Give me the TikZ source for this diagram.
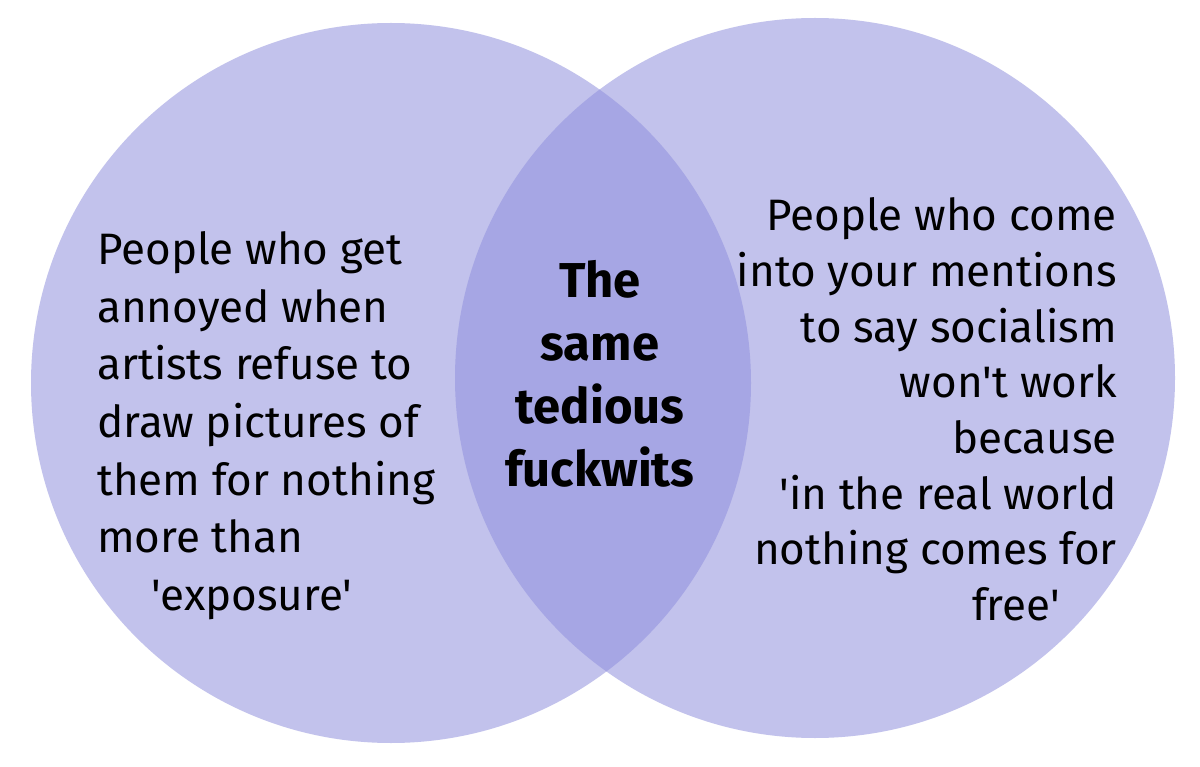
\documentclass[tikz,border=0pt]{standalone}
\usepackage{fontspec}
\newfontfamily\bodyfont{Fira Sans}
\newfontfamily\boldfont{Fira Sans Bold}
\definecolor{setfill}{HTML}{C2C2EC}
\definecolor{overlapfill}{HTML}{A6A6E4}
\begin{document}
\begin{tikzpicture}[x=1pt,y=-1pt,
  lefttxt/.style={anchor=base west, inner sep=0pt, font=\bodyfont\fontsize{44}{52}\selectfont},
  righttxt/.style={anchor=base east, inner sep=0pt, font=\bodyfont\fontsize{44}{52}\selectfont},
  midtxt/.style={anchor=base, inner sep=0pt, font=\boldfont\fontsize{49}{58}\selectfont}]
\useasboundingbox (0,0) rectangle (1200,767);
\fill[white] (0,0) rectangle (1200,767);
\coordinate (cl) at (391,383);
\coordinate (cr) at (815,378);
\fill[setfill] (cl) circle[radius=360pt];
\fill[setfill] (cr) circle[radius=360pt];
\begin{scope}
  \clip (cl) circle[radius=360pt];
  \fill[overlapfill] (cr) circle[radius=360pt];
\end{scope}
% left set
\node[lefttxt] (l1) at (97,265) {People who get};
\node[lefttxt] (l2) at (97,322.5) {annoyed when};
\node[lefttxt] (l3) at (97,380) {artists refuse to};
\node[lefttxt] (l4) at (97,437.5) {draw pictures of};
\node[lefttxt] (l5) at (97,495) {them for nothing};
\node[lefttxt] (l6) at (97,552.5) {more than};
\node[lefttxt] (l7) at (151,610) {'exposure'};
% middle
\node[midtxt] (m1) at (600,298) {The};
\node[midtxt] (m2) at (600,361) {same};
\node[midtxt] (m3) at (600,424) {tedious};
\node[midtxt] (m4) at (600,486) {fuckwits};
% right set
\node[righttxt] (r1) at (1117,231) {People who come};
\node[righttxt] (r2) at (1117,287) {into your mentions};
\node[righttxt] (r3) at (1117,342.5) {to say socialism};
\node[righttxt] (r4) at (1117,398) {won't work};
\node[righttxt] (r5) at (1117,453.5) {because};
\node[righttxt] (r6) at (1117,509) {'in the real world};
\node[righttxt] (r7) at (1117,564.5) {nothing comes for};
\node[righttxt] (r8) at (1060,620) {free'};
\end{tikzpicture}
\end{document}
